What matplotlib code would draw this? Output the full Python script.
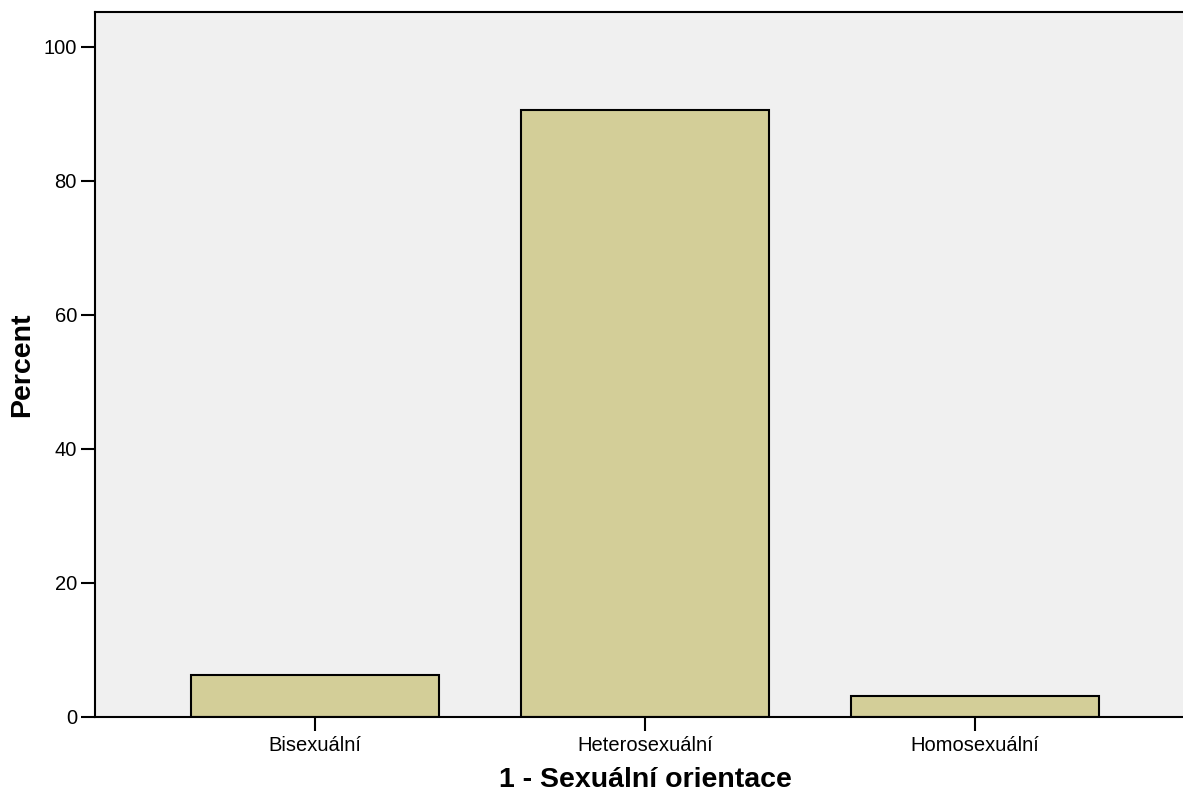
import matplotlib.pyplot as plt

plt.rcParams["font.family"] = ["Liberation Sans", "DejaVu Sans"]

categories = ["Bisexuální", "Heterosexuální", "Homosexuální"]
percent = [6.3, 90.6, 3.1]

W, H = 1183, 797
fig = plt.figure(figsize=(W / 100, H / 100), dpi=100)
# axes box in pixels: left 95, top 12, bottom 717, right extends past the edge
left, top, bottom, right = 95, 12, 717, 1195
ax = fig.add_axes([left / W, 1 - bottom / H, (right - left) / W, (bottom - top) / H])
ax.set_facecolor("#f0f0f0")

x = range(len(categories))
ax.bar(x, percent, width=0.75, color="#d3ce98", edgecolor="black", linewidth=1.5)

ax.set_xlim(-0.667, 2.667)
ax.set_ylim(0, 105.2)
ax.set_yticks([0, 20, 40, 60, 80, 100])
ax.set_xticks(list(x))
ax.set_xticklabels(categories)
ax.tick_params(axis="both", direction="out", length=10, width=1.5, labelsize=14.5, pad=3)
ax.tick_params(axis="x", pad=4)

for s in ["left", "bottom", "top"]:
    ax.spines[s].set_linewidth(1.5)
ax.spines["right"].set_visible(False)

ax.set_xlabel("1 - Sexuální orientace", fontsize=20.5, fontweight="bold", labelpad=8)
ax.set_ylabel("Percent", fontsize=20.5, fontweight="bold", labelpad=6)

plt.savefig("out.png", dpi=100)
